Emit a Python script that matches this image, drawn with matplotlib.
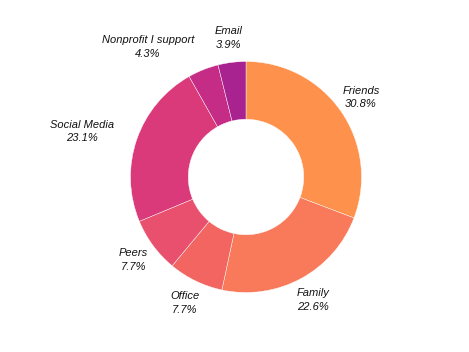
import numpy as np
import matplotlib.pyplot as plt

plt.rcParams['font.family'] = ['Liberation Sans', 'DejaVu Sans']

# data
labels = ['Friends', 'Family', 'Office', 'Peers', 'Social Media', 'Nonprofit I support', 'Email']
shares = [30.8, 22.6, 7.7, 7.7, 23.1, 4.3, 3.9]
colors = ['#FE914C', '#F97A5A', '#F26561', '#E8506D', '#DA3A79', '#C52C86', '#A8238F']
label_ha = ['center', 'center', 'center', 'center', 'right', 'right', 'center']

fig = plt.figure(figsize=(4.69, 3.52), dpi=100)
ax = fig.add_axes([0, 0, 1, 1])

wedges, _ = ax.pie(shares, colors=colors, startangle=90, counterclock=False,
                   radius=1, wedgeprops=dict(width=0.5, edgecolor='white', linewidth=0.3))

for w, lab, val, ha in zip(wedges, labels, shares, label_ha):
    ang = np.deg2rad((w.theta1 + w.theta2) / 2)
    x, y = 1.21 * np.cos(ang), 1.21 * np.sin(ang)
    ax.text(x, y, f'{lab}\n{val}%', ha=ha, va='center', multialignment='center',
            fontsize=8, style='italic', color='#111111', linespacing=1.45)

# place the donut: centre at (246, 177) px, outer radius ~115 px
r_px = 115.5
cx, cy = 246, 352 - 177
ax.set_aspect('auto')
ax.set_xlim(-cx / r_px, (469 - cx) / r_px)
ax.set_ylim(-cy / r_px, (352 - cy) / r_px)
ax.axis('off')

fig.savefig('out.png', dpi=100)
